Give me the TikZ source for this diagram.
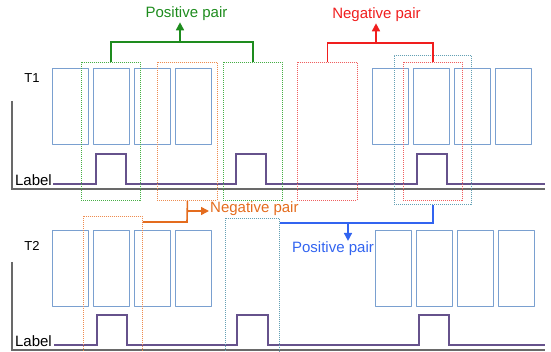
\documentclass[tikz,border=0pt]{standalone}
\usepackage{fontspec}
\setmainfont{Liberation Sans}
\usetikzlibrary{arrows.meta}
\definecolor{boxblue}{RGB}{122,160,208}
\definecolor{lblpurple}{RGB}{102,82,140}
\definecolor{axisgray}{RGB}{105,105,105}
\definecolor{posgreen}{RGB}{30,140,30}
\definecolor{selgreen}{RGB}{70,175,70}
\definecolor{negred}{RGB}{240,30,30}
\definecolor{selred}{RGB}{240,95,95}
\definecolor{negorange}{RGB}{228,108,30}
\definecolor{selorange}{RGB}{238,140,80}
\definecolor{posblue}{RGB}{50,100,240}
\definecolor{selteal}{RGB}{100,160,180}
\tikzset{
  frame/.style={draw=boxblue,line width=1.2pt,minimum width=36pt,minimum height=76pt,inner sep=0pt,anchor=north west},
  pick/.style={dash pattern=on 1pt off 1pt,line width=0.9pt,inner sep=0pt,anchor=north west,line cap=butt},
  pulse/.style={draw=lblpurple,line width=1.8pt,line cap=butt,line join=miter},
  axis/.style={draw=axisgray,line width=1.4pt,line cap=butt,line join=miter},
  tag/.style={font=\fontsize{15}{18}\selectfont,inner sep=1pt},
  bracket/.style={line width=1.6pt,line cap=butt,line join=miter}
}

\begin{document}
\begin{tikzpicture}[line cap=round,line join=round,>={Triangle[length=8pt,width=8pt]},x=1pt,y=-1pt]
\clip (0,0) rectangle (551,352);
% rows of frames
\foreach \i/\x in {1/52,2/93,3/134,4/175,5/372,6/413,7/454,8/495}
  \node[frame] (a\i) at (\x,68) {};
\foreach \i/\x in {1/52,2/93,3/134,4/175,5/375,6/416,7/457,8/498}
  \node[frame] (b\i) at (\x,230) {};
\node[font=\fontsize{13}{15}\selectfont] (row1) at (32,78.5) {T1};
\node[font=\fontsize{13}{15}\selectfont] (row2) at (32,246) {T2};
% label signals
\node[tag,anchor=base east] (lab1) at (53,186) {Label};
\node[tag,anchor=base east] (lab2) at (53,346) {Label};
\draw[axis] (12,101) |- (545,189);
\draw[axis] (12,262) |- (545,350);
\draw[pulse] (53,184) -- (96,184) -- (96,154) -- (126,154) -- (126,184) -- (236,184) -- (236,154)
  -- (266,154) -- (266,184) -- (417,184) -- (417,154) -- (447,154) -- (447,184) -- (545,184);
\draw[pulse] (54,345) -- (97,345) -- (97,315) -- (127,315) -- (127,345) -- (237,345) -- (237,315)
  -- (268,315) -- (268,345) -- (419,345) -- (419,315) -- (449,315) -- (449,345) -- (545,345);
% selected windows
\node[pick,draw=selgreen,minimum width=59pt,minimum height=138pt] (g1) at (81,62) {};
\node[pick,draw=selgreen,minimum width=59pt,minimum height=138pt] (g2) at (223,62) {};
\node[pick,draw=selorange,minimum width=60pt,minimum height=138pt] (o1) at (157,62) {};
\node[pick,draw=selred,minimum width=60pt,minimum height=138pt] (r1) at (297,62) {};
\node[pick,draw=selred,minimum width=59pt,minimum height=138pt] (r2) at (403,62) {};
\node[pick,draw=selteal,minimum width=77pt,minimum height=149pt] (s1) at (394,55) {};
\node[pick,draw=selorange,minimum width=59pt,minimum height=140pt] (o2) at (83,216) {};
\node[pick,draw=selteal,minimum width=54pt,minimum height=140pt] (s2) at (225,218) {};
% pair labels
\node[tag,text=posgreen,anchor=base] (gtxt) at (186.5,18) {Positive pair};
\node[tag,text=negred,anchor=base] (rtxt) at (376.5,19) {Negative pair};
\node[tag,text=negorange,anchor=base west] (otxt) at (209,213) {Negative pair};
\node[tag,text=posblue,anchor=base] (btxt) at (333,253) {Positive pair};
% brackets
\coordinate (gtop) at (180,42);
\draw[bracket,posgreen] (g1.north) |- (gtop) -| (g2.north);
\draw[bracket,posgreen,->] (gtop) -- (gtop |- gtxt.south);
\coordinate (rtop) at (376,43);
\draw[bracket,negred] (r1.north) |- (rtop) -| (r2.north);
\draw[bracket,negred,->] (rtop) -- (rtop |- rtxt.south);
\coordinate (bmid) at (348,223);
\draw[bracket,posblue] (s1.south) |- (bmid) -- (bmid -| s2.east);
\draw[bracket,posblue,->] (bmid) -- (bmid |- btxt.north);
\coordinate (ojoin) at (187,222);
\coordinate (oarr) at (187,211);
\draw[bracket,negorange] (o1.south) -- (ojoin) -- (ojoin -| o2.east);
\draw[bracket,negorange,->] (oarr) -- (oarr -| otxt.west);
\end{tikzpicture}
\end{document}
